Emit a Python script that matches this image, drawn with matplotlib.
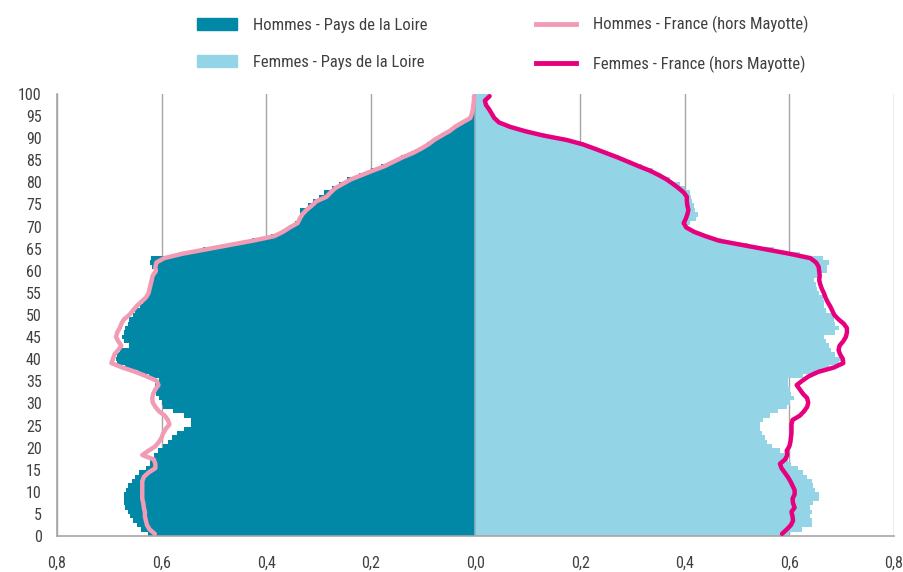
import numpy as np
import matplotlib
matplotlib.use('Agg')
import matplotlib.pyplot as plt
from matplotlib.lines import Line2D
from matplotlib.patches import Patch

plt.rcParams['font.family'] = ['Liberation Sans Narrow', 'Roboto Condensed', 'DejaVu Sans']

ages = list(range(101))
age_ticks = list(range(0, 101, 5))

# Hommes - Pays de la Loire (bars, left)
hommes_pdl = [
    0.627, 0.640, 0.648, 0.655, 0.660, 0.665, 0.670, 0.672, 0.672, 0.672,
    0.668, 0.665, 0.657, 0.650, 0.643, 0.630, 0.622, 0.622, 0.615, 0.607,
    0.597, 0.588, 0.580, 0.570, 0.558, 0.543, 0.543, 0.558, 0.578, 0.597,
    0.600, 0.605, 0.610, 0.613, 0.612, 0.605, 0.625, 0.645, 0.670, 0.685,
    0.688, 0.686, 0.680, 0.662, 0.672, 0.675, 0.672, 0.670, 0.665, 0.662,
    0.655, 0.650, 0.642, 0.635, 0.630, 0.625, 0.620, 0.620, 0.617, 0.615,
    0.615, 0.618, 0.622, 0.620, 0.565, 0.520, 0.472, 0.428, 0.390, 0.370,
    0.357, 0.345, 0.338, 0.336, 0.335, 0.320, 0.310, 0.300, 0.290, 0.275,
    0.260, 0.245, 0.222, 0.200, 0.180, 0.160, 0.142, 0.123, 0.106, 0.092,
    0.080, 0.064, 0.050, 0.038, 0.024, 0.012, 0.007, 0.005, 0.004, 0.003, 0.003]

# Femmes - Pays de la Loire (bars, right)
femmes_pdl = [
    0.600, 0.625, 0.643, 0.643, 0.640, 0.643, 0.640, 0.646, 0.656, 0.656,
    0.649, 0.646, 0.643, 0.633, 0.627, 0.617, 0.604, 0.598, 0.592, 0.582,
    0.566, 0.557, 0.554, 0.547, 0.544, 0.544, 0.550, 0.563, 0.579, 0.595,
    0.601, 0.608, 0.604, 0.601, 0.598, 0.598, 0.627, 0.650, 0.675, 0.695,
    0.698, 0.688, 0.679, 0.676, 0.670, 0.667, 0.688, 0.695, 0.688, 0.685,
    0.685, 0.670, 0.667, 0.667, 0.664, 0.657, 0.653, 0.650, 0.647, 0.660,
    0.672, 0.672, 0.675, 0.665, 0.620, 0.570, 0.520, 0.470, 0.440, 0.420,
    0.405, 0.410, 0.422, 0.425, 0.420, 0.418, 0.414, 0.412, 0.410, 0.400,
    0.390, 0.372, 0.355, 0.340, 0.318, 0.297, 0.275, 0.252, 0.230, 0.205,
    0.175, 0.132, 0.097, 0.068, 0.046, 0.035, 0.030, 0.025, 0.020, 0.018, 0.025]

# Hommes - France (hors Mayotte) (line, left)
hommes_fr = [
    0.613, 0.623, 0.628, 0.630, 0.632, 0.632, 0.634, 0.635, 0.637, 0.637,
    0.637, 0.637, 0.637, 0.634, 0.625, 0.612, 0.612, 0.615, 0.637, 0.625,
    0.612, 0.605, 0.600, 0.597, 0.592, 0.585, 0.588, 0.594, 0.605, 0.612,
    0.617, 0.618, 0.616, 0.612, 0.606, 0.610, 0.629, 0.650, 0.675, 0.696,
    0.693, 0.690, 0.683, 0.677, 0.683, 0.687, 0.685, 0.680, 0.677, 0.672,
    0.662, 0.655, 0.648, 0.639, 0.630, 0.625, 0.623, 0.621, 0.619, 0.617,
    0.611, 0.612, 0.610, 0.595, 0.560, 0.515, 0.470, 0.425, 0.385, 0.368,
    0.355, 0.340, 0.336, 0.331, 0.323, 0.313, 0.304, 0.285, 0.277, 0.268,
    0.253, 0.238, 0.217, 0.196, 0.174, 0.157, 0.140, 0.120, 0.104, 0.090,
    0.079, 0.065, 0.050, 0.039, 0.025, 0.010, 0.007, 0.005, 0.004, 0.003, 0.003]

# Femmes - France (hors Mayotte) (line, right)
femmes_fr = [
    0.586, 0.595, 0.603, 0.607, 0.606, 0.604, 0.610, 0.607, 0.606, 0.610,
    0.610, 0.606, 0.602, 0.597, 0.591, 0.585, 0.582, 0.592, 0.596, 0.595,
    0.600, 0.602, 0.603, 0.604, 0.604, 0.604, 0.606, 0.620, 0.628, 0.634,
    0.636, 0.634, 0.626, 0.620, 0.614, 0.625, 0.637, 0.655, 0.685, 0.703,
    0.702, 0.697, 0.694, 0.696, 0.703, 0.708, 0.710, 0.710, 0.704, 0.694,
    0.686, 0.682, 0.678, 0.673, 0.669, 0.666, 0.662, 0.659, 0.657, 0.658,
    0.657, 0.656, 0.651, 0.640, 0.600, 0.555, 0.510, 0.465, 0.440, 0.418,
    0.403, 0.398, 0.402, 0.405, 0.407, 0.405, 0.404, 0.404, 0.398, 0.388,
    0.377, 0.365, 0.350, 0.333, 0.312, 0.292, 0.272, 0.250, 0.228, 0.205,
    0.174, 0.130, 0.095, 0.066, 0.045, 0.036, 0.031, 0.026, 0.020, 0.018, 0.027]

teal = '#0088a6'
light = '#93d5e7'
pink = '#f29bb4'
magenta = '#e6007e'
grey = '#a6a6a6'
txt = '#404040'

fig = plt.figure(figsize=(9.04, 5.72), dpi=100)
ax = fig.add_axes([57 / 904, 1 - 536 / 572, (894 - 57) / 904, (536 - 94) / 572])

ax.barh(ages, [-v for v in hommes_pdl], height=1.0, color=teal, linewidth=0, zorder=2)
ax.barh(ages, femmes_pdl, height=1.0, color=light, linewidth=0, zorder=2)
ax.axvline(0, color='#8fb0bb', lw=1.2, zorder=3)
ax.plot([-v for v in hommes_fr], ages, color=pink, lw=3.2, zorder=4, solid_capstyle='round')
ax.plot(femmes_fr, ages, color=magenta, lw=3.2, zorder=4, solid_capstyle='round')

ax.set_xlim(-0.8, 0.8)
ax.set_ylim(-0.5, 100.5)
xt = np.round(np.arange(-0.8, 0.81, 0.2), 1)
ax.set_xticks(xt)
ax.set_xticklabels([('%.1f' % abs(v)).replace('.', ',') for v in xt])
# age labels run from the bottom edge to the top edge of the category axis
ax.set_yticks([t * 1.01 - 0.5 for t in age_ticks])
ax.set_yticklabels([str(t) for t in age_ticks])
ax.grid(axis='x', color=grey, lw=1, zorder=1)
ax.set_axisbelow(True)
for s in ['top', 'right']:
    ax.spines[s].set_visible(False)
for s in ['left', 'bottom']:
    ax.spines[s].set_color(grey)
    ax.spines[s].set_linewidth(1.2)
ax.tick_params(axis='both', length=0, labelsize=11.5, colors=txt)
ax.tick_params(axis='x', pad=14)
ax.tick_params(axis='y', pad=11)

handles = [Patch(color=teal), Patch(color=light),
           Line2D([], [], color=pink, lw=3.5), Line2D([], [], color=magenta, lw=3.5)]
labels = ['Hommes - Pays de la Loire', 'Femmes - Pays de la Loire',
          'Hommes - France (hors Mayotte)', 'Femmes - France (hors Mayotte)']
fig.legend(handles, labels, loc='center', bbox_to_anchor=(0.556, 0.922), ncol=2,
           frameon=False, fontsize=12, labelcolor=txt, handlelength=2.4,
           handleheight=0.75, columnspacing=6.5, labelspacing=1.35, handletextpad=1.0)

fig.savefig('out.png', dpi=100)
